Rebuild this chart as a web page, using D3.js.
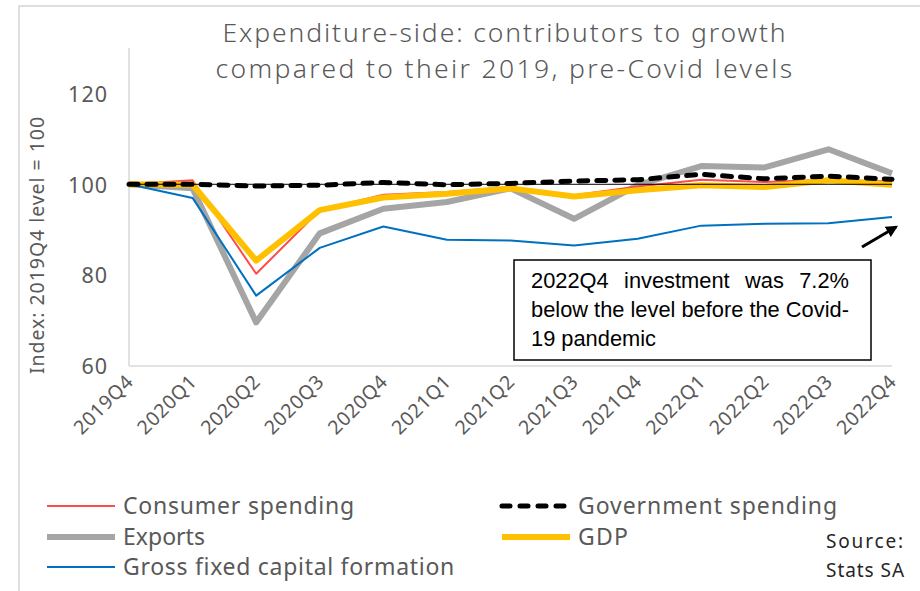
<!DOCTYPE html>
<html>
<head>
<meta charset="utf-8">
<script src="https://cdn.jsdelivr.net/npm/d3@7"></script>
<style>
  html, body { margin: 0; padding: 0; background: #fff; }
  svg { display: block; }
</style>
</head>
<body>
<svg id="chart" width="920" height="591"></svg>
<script>
// ---- data ----
const quarters = ["2019Q4","2020Q1","2020Q2","2020Q3","2020Q4","2021Q1","2021Q2","2021Q3","2021Q4","2022Q1","2022Q2","2022Q3","2022Q4"];
const consumerSpending   = [100, 100.9, 80.3, 94.3, 97.7, 98.3, 99.4, 97.6, 99.5, 101.0, 100.5, 101.0, 100.6];
const governmentSpending = [100, 100.0, 99.6, 99.8, 100.4, 99.9, 100.2, 100.7, 101.0, 102.2, 101.2, 101.8, 101.1];
const exportsIdx         = [100, 99.1, 69.6, 89.2, 94.6, 96.1, 99.1, 92.4, 99.8, 104.0, 103.7, 107.7, 102.4];
const gdpIdx             = [100, 99.9, 83.2, 94.3, 97.1, 97.9, 99.1, 97.3, 98.7, 99.8, 99.4, 100.9, 99.9];
const gfcfIdx            = [100, 97.0, 75.5, 86.0, 90.7, 87.8, 87.6, 86.5, 88.0, 90.9, 91.3, 91.4, 92.8];
const baseline           = [100, 100, 100, 100, 100, 100, 100, 100, 100, 100, 100, 100, 100];
const yTicks = [60, 80, 100, 120];
const yDomain = [60, 130];

const titleLines = ["Expenditure-side: contributors to growth", "compared to their 2019, pre-Covid levels"];
const yTitle = "Index: 2019Q4 level = 100";
const noteLines = [["2022Q4","investment","was","7.2%"], ["below the level before the Covid-"], ["19 pandemic"]];

const FONT = "'Noto Sans', 'DejaVu Sans', sans-serif";
const GREY = "#595959";

const svg = d3.select("#chart");

// fit helpers
function fit(sel, target) {
  const n = sel.node();
  const fs = parseFloat(sel.attr("font-size"));
  const w = n.getComputedTextLength();
  sel.attr("font-size", (fs * target / w).toFixed(2));
  return sel;
}
function spread(sel, target) {
  const n = sel.node();
  const w = n.getComputedTextLength();
  const len = sel.text().length;
  sel.attr("letter-spacing", ((target - w) / len).toFixed(3));
  return sel;
}

// outer frame
svg.append("rect").attr("x", 19).attr("y", 6).attr("width", 1000).attr("height", 1000)
  .attr("fill", "none").attr("stroke", "#d4d4d4").attr("stroke-width", 1.5);

// title
const titleY = [42, 78];
const titleW = [565, 579];
titleLines.forEach((t, i) => {
  const s = svg.append("text").attr("x", 505).attr("y", titleY[i]).attr("text-anchor", "middle")
    .attr("font-family", FONT).attr("font-weight", 300).attr("font-size", 26.5).attr("fill", GREY).text(t);
  spread(s, titleW[i]);
});

// scales
const x = d3.scalePoint().domain(quarters).range([129, 892]);
const y = d3.scaleLinear().domain(yDomain).range([366, 48]);

// axes lines
svg.append("line").attr("x1", 129).attr("x2", 129).attr("y1", y(yDomain[1])).attr("y2", y(yDomain[0]))
  .attr("stroke", "#d9d9d9").attr("stroke-width", 1.5);
svg.append("line").attr("x1", 129).attr("x2", 892).attr("y1", y(yDomain[0])).attr("y2", y(yDomain[0]))
  .attr("stroke", "#d9d9d9").attr("stroke-width", 1.5);

// y tick labels
const yAxis = svg.append("g").attr("transform", "translate(129,0)")
  .call(d3.axisLeft(y).tickValues(yTicks).tickSize(0).tickPadding(21).tickFormat(d3.format("d")));
yAxis.select(".domain").remove();
yAxis.selectAll("text").attr("font-family", FONT).attr("font-size", 21.5).attr("fill", GREY).attr("dy", "0.36em")
  .attr("letter-spacing", 1);

// y title
const yt = svg.append("text").attr("transform", "translate(44,245) rotate(-90)").attr("text-anchor", "middle")
  .attr("font-family", FONT).attr("font-size", 19.5).attr("fill", GREY).text(yTitle);
spread(yt, 258);

// x tick labels
const xAxis = svg.append("g").attr("transform", `translate(0,${y(yDomain[0])})`)
  .call(d3.axisBottom(x).tickSize(0).tickPadding(0));
xAxis.select(".domain").remove();
xAxis.selectAll("text")
  .attr("font-family", FONT).attr("font-size", 19.5).attr("fill", GREY)
  .attr("text-anchor", "end").attr("dy", 0).attr("y", 0).attr("letter-spacing", 0.6)
  .attr("transform", "translate(5,17) rotate(-45)");

// lines
const line = d3.line().x((d, i) => x(quarters[i])).y(d => y(d));
const series = [
  { vals: exportsIdx, color: "#a5a5a5", w: 6, dash: null, cap: "butt" },
  { vals: consumerSpending, color: "#ff4b4b", w: 2, dash: null, cap: "butt" },
  { vals: gdpIdx, color: "#ffc000", w: 6, dash: null, cap: "butt" },
  { vals: gfcfIdx, color: "#0070c0", w: 2, dash: null, cap: "butt" },
  { vals: governmentSpending, color: "#000", w: 5, dash: "9,9", cap: "round" },
  { vals: baseline, color: "#000", w: 1, dash: null, cap: "butt" }
];
svg.append("g").selectAll("path").data(series).join("path")
  .attr("d", d => line(d.vals))
  .attr("fill", "none").attr("stroke", d => d.color).attr("stroke-width", d => d.w)
  .attr("stroke-dasharray", d => d.dash).attr("stroke-linecap", d => d.cap)
  .attr("stroke-linejoin", "round");

// annotation box
svg.append("rect").attr("x", 514).attr("y", 260).attr("width", 357).attr("height", 100)
  .attr("fill", "#fff").attr("stroke", "#000").attr("stroke-width", 1.5);
const noteFont = "'Liberation Sans', Arial, sans-serif";
const l2 = svg.append("text").attr("x", 531).attr("y", 317).attr("font-family", noteFont)
  .attr("font-size", 20).attr("fill", "#000").text(noteLines[1][0]);
fit(l2, 318);
const nfs = +l2.attr("font-size");
{
  const words = noteLines[0];
  const g = svg.append("g");
  const ts = words.map(w => g.append("text").attr("y", 288).attr("font-family", noteFont)
    .attr("font-size", nfs).attr("fill", "#000").text(w));
  const widths = ts.map(t => t.node().getComputedTextLength());
  const total = d3.sum(widths);
  const gap = (318 - total) / (words.length - 1);
  let cx = 531;
  ts.forEach((t, i) => { t.attr("x", cx); cx += widths[i] + gap; });
}
svg.append("text").attr("x", 531).attr("y", 346).attr("font-family", noteFont)
  .attr("font-size", nfs).attr("fill", "#000").text(noteLines[2][0]);

// arrow
const defs = svg.append("defs");
defs.append("marker").attr("id", "arr").attr("viewBox", "0 0 10 10").attr("refX", 8).attr("refY", 5)
  .attr("markerWidth", 4).attr("markerHeight", 4).attr("orient", "auto")
  .append("path").attr("d", "M0,0 L10,5 L0,10 z").attr("fill", "#000");
svg.append("line").attr("x1", 862).attr("y1", 247).attr("x2", 896).attr("y2", 227)
  .attr("stroke", "#000").attr("stroke-width", 3).attr("marker-end", "url(#arr)");

// legend
const legendItems = [
  { name: "Consumer spending", s: series[1], lx: 47, ty: 506, tw: 232 },
  { name: "Government spending", s: series[4], lx: 502, ty: 506, tw: 260 },
  { name: "Exports", s: series[0], lx: 47, ty: 537, tw: 82 },
  { name: "GDP", s: series[2], lx: 502, ty: 537, tw: 51 },
  { name: "Gross fixed capital formation", s: series[3], lx: 47, ty: 567, tw: 332 }
];
const lg = svg.append("g");
legendItems.forEach(it => {
  lg.append("line").attr("x1", it.lx).attr("x2", it.lx + 68).attr("y1", it.ty).attr("y2", it.ty)
    .attr("stroke", it.s.color).attr("stroke-width", it.s.w)
    .attr("stroke-dasharray", it.s.dash ? "8,10" : null).attr("stroke-linecap", it.s.cap);
  const t = lg.append("text").attr("x", it.lx + 76).attr("y", it.ty).attr("dy", "0.35em")
    .attr("font-family", FONT).attr("font-size", 23).attr("fill", GREY).text(it.name);
  spread(t, it.tw);
});

// source
const s1 = svg.append("text").attr("x", 826).attr("y", 548).attr("font-family", FONT).attr("font-size", 19)
  .attr("fill", "#262626").text("Source:");
spread(s1, 79);
const s2 = svg.append("text").attr("x", 826).attr("y", 577).attr("font-family", FONT).attr("font-size", 19)
  .attr("fill", "#262626").text("Stats SA");
spread(s2, 79);
</script>
</body>
</html>
